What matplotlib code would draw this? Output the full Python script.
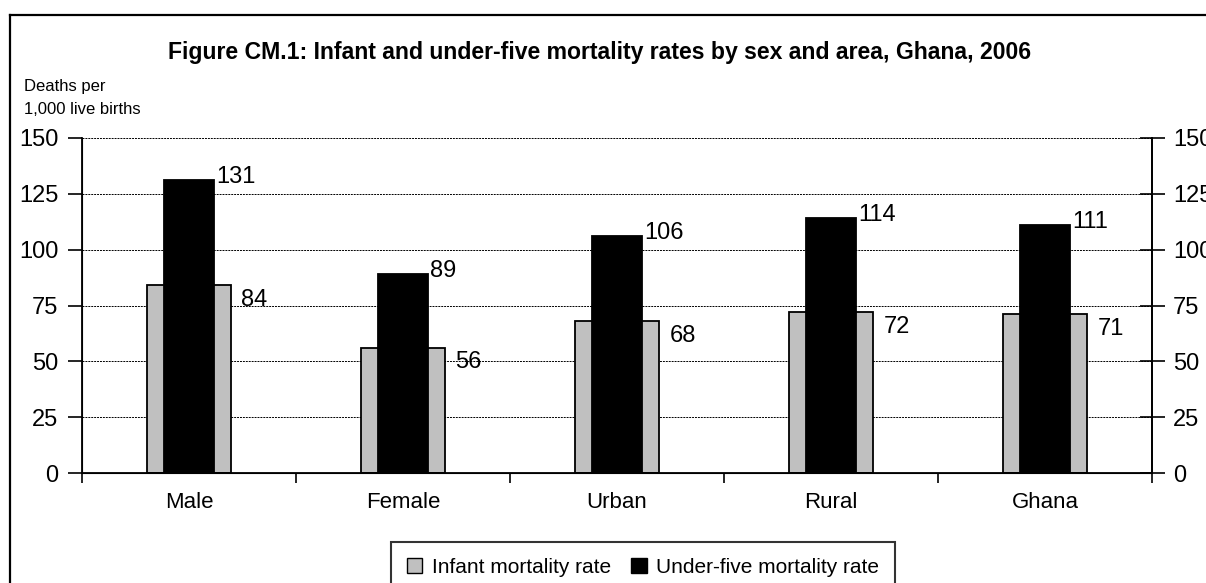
import matplotlib
matplotlib.use('Agg')
import matplotlib.pyplot as plt
from matplotlib.lines import Line2D
from matplotlib.patches import Patch
import numpy as np

categories = ['Male', 'Female', 'Urban', 'Rural', 'Ghana']
infant = [84, 56, 68, 72, 71]
under_five = [131, 89, 106, 114, 111]
yticks = [0, 25, 50, 75, 100, 125, 150]

plt.rcParams['font.family'] = ['Liberation Sans', 'DejaVu Sans']

W, H = 1206, 583
fig = plt.figure(figsize=(W / 100, H / 100), dpi=100)
ax = fig.add_axes([82 / W, 1 - 473 / H, (1152 - 82) / W, (473 - 138) / H])

x = np.arange(len(categories))
ax.bar(x, infant, width=0.39, color='#c0c0c0', edgecolor='black', linewidth=1.3, zorder=2,
       label='Infant mortality rate')
ax.bar(x, under_five, width=0.23, color='black', edgecolor='black', linewidth=1.3, zorder=3,
       label='Under-five mortality rate')

# value labels, placed roughly like the Excel original
for i in range(len(categories)):
    ax.text(x[i] + 0.125, under_five[i] + 1.5, str(under_five[i]), fontsize=17,
            ha='left', va='center')
    ax.text(x[i] + 0.245, infant[i] - 6.5, str(infant[i]), fontsize=17,
            ha='left', va='center')

ax.set_xlim(-0.5, len(categories) - 0.5)
ax.set_ylim(0, 150)
ax.set_yticks(yticks)
ax.tick_params(axis='y', labelsize=17, length=10, width=1.2, direction='out', pad=7)
ax.set_xticks(np.arange(-0.5, len(categories), 1.0))
ax.set_xticklabels([])
ax.set_xticks(x, minor=True)
ax.set_xticklabels(categories, minor=True)
ax.tick_params(axis='x', which='major', length=7, width=1.2, direction='out')
ax.tick_params(axis='x', which='minor', length=0, labelsize=16, pad=14)
ax.yaxis.grid(True, linestyle=(0, (2, 1)), color='black', linewidth=0.7, zorder=0)
ax.set_axisbelow(True)
ax.spines['top'].set_visible(False)
for s in ['left', 'right', 'bottom']:
    ax.spines[s].set_linewidth(1.3)

ax2 = ax.twinx()
ax2.set_ylim(0, 150)
ax2.set_yticks(yticks)
ax2.tick_params(axis='y', labelsize=17, length=18, width=1.2, direction='inout', pad=6)
ax2.spines['top'].set_visible(False)
ax2.spines['right'].set_linewidth(1.3)

fig.text(600 / W, 1 - 53 / H,
         'Figure CM.1: Infant and under-five mortality rates by sex and area, Ghana, 2006',
         ha='center', va='center', fontsize=16.6, fontweight='bold')
fig.text(24 / W, 1 - 87 / H, 'Deaths per', ha='left', va='center', fontsize=12)
fig.text(24 / W, 1 - 110 / H, '1,000 live births', ha='left', va='center', fontsize=12)

handles = [Patch(facecolor='#c0c0c0', edgecolor='black', label='Infant mortality rate'),
           Patch(facecolor='black', edgecolor='black', label='Under-five mortality rate')]
leg = fig.legend(handles=handles, loc='upper center', bbox_to_anchor=(643 / W, 1 - 542 / H),
                 ncol=2, fontsize=15, frameon=True, fancybox=False, edgecolor='black',
                 handlelength=0.75, handleheight=0.75, handletextpad=0.45, columnspacing=1.0,
                 borderpad=0.75, borderaxespad=0)
leg.get_frame().set_linewidth(1.5)

fig.add_artist(Line2D([10 / W, 10 / W], [0, 1 - 15 / H], color='black', linewidth=1.6,
                      transform=fig.transFigure))
fig.add_artist(Line2D([10 / W, 1], [1 - 15 / H, 1 - 15 / H], color='black', linewidth=1.6,
                      transform=fig.transFigure))

fig.savefig('out.png', dpi=100)
